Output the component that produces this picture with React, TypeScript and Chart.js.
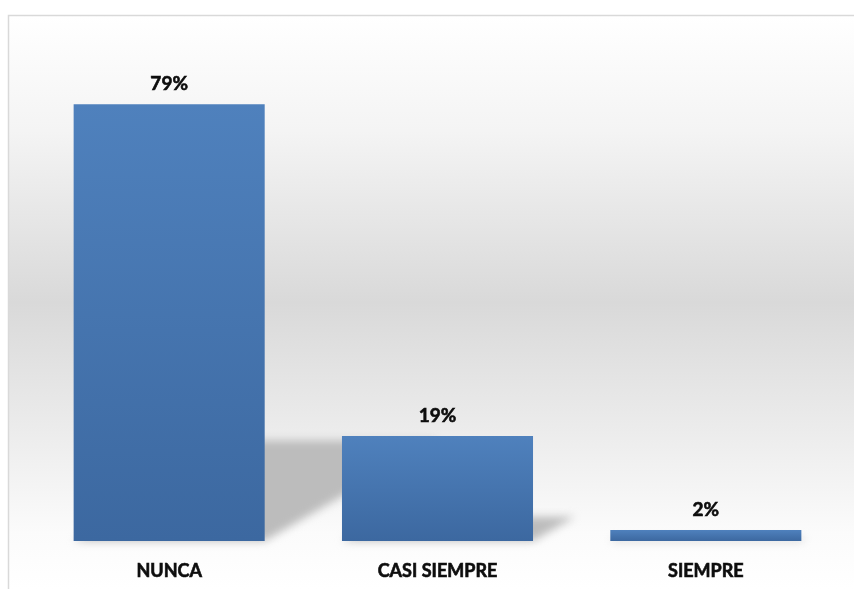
import React, { useEffect, useRef } from "react";
import { Chart, registerables } from "chart.js";

Chart.register(...registerables);

const categories = ["NUNCA", "CASI SIEMPRE", "SIEMPRE"];
const percentages = [79, 19, 2];
const yAxisMax = 85;

const FONT = "Lato, 'Open Sans', sans-serif";

const backgroundPlugin = {
  id: "bgPanel",
  beforeDraw(chart: any) {
    const { ctx, width, height } = chart;
    ctx.save();
    ctx.fillStyle = "#ffffff";
    ctx.fillRect(0, 0, width, height);
    const g = ctx.createLinearGradient(0, 16, 0, height);
    g.addColorStop(0, "#ffffff");
    g.addColorStop(0.2, "#f4f4f4");
    g.addColorStop(0.5, "#d9d9d9");
    g.addColorStop(0.75, "#eeeeee");
    g.addColorStop(0.9, "#fbfbfb");
    g.addColorStop(1, "#ffffff");
    ctx.fillStyle = g;
    ctx.fillRect(9, 16, width - 9, height - 16);
    ctx.strokeStyle = "#d9d9d9";
    ctx.lineWidth = 1.5;
    ctx.beginPath();
    ctx.moveTo(8.5, height);
    ctx.lineTo(8.5, 15.5);
    ctx.lineTo(width, 15.5);
    ctx.stroke();
    ctx.restore();
  },
};

const shadowPlugin = {
  id: "barShadows",
  beforeDatasetsDraw(chart: any) {
    const { ctx } = chart;
    const meta = chart.getDatasetMeta(0);
    ctx.save();
    ctx.filter = "blur(4px)";
    ctx.fillStyle = "#bcbcbc";
    meta.data.forEach((bar: any) => {
      const left = bar.x - bar.width / 2;
      const right = bar.x + bar.width / 2;
      const h = bar.base - bar.y;
      const dy = h * 0.23;
      const dx = dy / 0.58;
      ctx.beginPath();
      ctx.moveTo(left, bar.base);
      ctx.lineTo(right, bar.base);
      ctx.lineTo(right + dx, bar.base - dy);
      ctx.lineTo(left + dx, bar.base - dy);
      ctx.closePath();
      ctx.fill();
    });
    ctx.restore();
  },
};

const labelPlugin = {
  id: "valueLabels",
  afterDatasetsDraw(chart: any) {
    const { ctx } = chart;
    const meta = chart.getDatasetMeta(0);
    ctx.save();
    ctx.font = `bold 19px ${FONT}`;
    ctx.fillStyle = "#0d0d0d";
    ctx.strokeStyle = "#0d0d0d";
    ctx.lineWidth = 0.6;
    ctx.textAlign = "center";
    ctx.textBaseline = "alphabetic";
    meta.data.forEach((bar: any, i: number) => {
      const t = `${percentages[i]}%`;
      ctx.fillText(t, bar.x, bar.y - 14);
      ctx.strokeText(t, bar.x, bar.y - 14);
    });
    ctx.restore();
  },
};

export default function App() {
  const ref = useRef<HTMLCanvasElement>(null);

  useEffect(() => {
    if (!ref.current) return;
    const chart = new Chart(ref.current, {
      type: "bar",
      data: {
        labels: categories,
        datasets: [
          {
            data: percentages,
            backgroundColor: (c: any) => {
              const y = c.chart.scales?.y;
              if (!y || c.raw === undefined) return "#4a7ab5";
              const top = y.getPixelForValue(c.raw);
              const bottom = y.getPixelForValue(0);
              if (!isFinite(top) || !isFinite(bottom) || top === bottom) return "#4a7ab5";
              const g = c.chart.ctx.createLinearGradient(0, top, 0, bottom);
              g.addColorStop(0, "#4f81bd");
              g.addColorStop(1, "#3c68a0");
              return g;
            },
            borderWidth: 0,
            barPercentage: 0.712,
            categoryPercentage: 1,
          },
        ],
      },
      options: {
        animation: false,
        responsive: true,
        maintainAspectRatio: false,
        layout: { padding: { left: 35, right: 14, top: 71, bottom: 0 } },
        plugins: {
          legend: { display: false },
          tooltip: { enabled: false },
          title: { display: false },
        },
        scales: {
          x: {
            grid: { display: false, drawTicks: false },
            border: { display: false },
            ticks: {
              color: "#0d0d0d",
              font: { family: FONT, size: 18, weight: "bold" },
              padding: 19,
              maxRotation: 0,
              textStrokeColor: "#0d0d0d",
              textStrokeWidth: 0.6,
            },
            afterFit: (scale: any) => {
              scale.height = 48;
            },
          },
          y: {
            display: false,
            min: 0,
            max: yAxisMax,
          },
        },
      },
      plugins: [backgroundPlugin, shadowPlugin, labelPlugin],
    });
    return () => chart.destroy();
  }, []);

  return (
    <div style={{ position: "fixed", left: 0, top: 0, width: 854, height: 589 }}>
      <canvas ref={ref} />
    </div>
  );
}
